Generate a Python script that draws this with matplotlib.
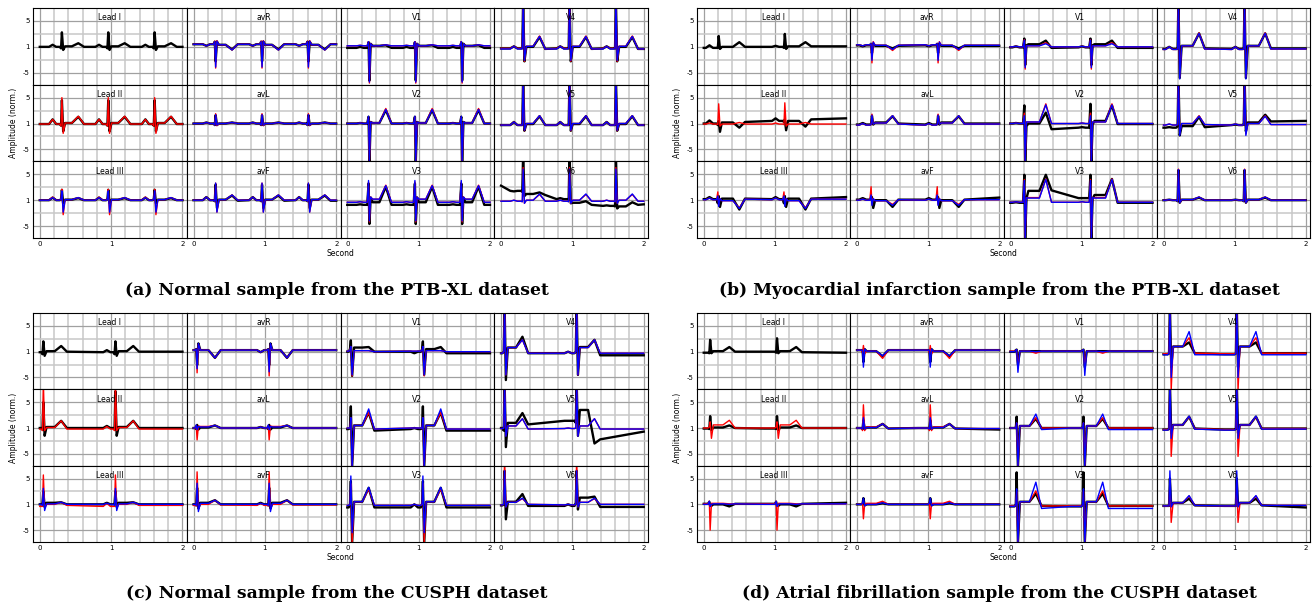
import matplotlib
matplotlib.use("Agg")
import matplotlib.pyplot as plt
from matplotlib.ticker import MultipleLocator

LEADS = ['Lead I', 'Lead II', 'Lead III', 'avR', 'avL', 'avF',
         'V1', 'V2', 'V3', 'V4', 'V5', 'V6']

# every beat is read off the picture as
# (pre, P, q, r, s, ST, T, post) amplitudes, placed around the R time
# None = trace not drawn in that lead

# ---- (a) normal, PTB-XL ----
A_R_TIMES = [0.31, 0.96, 1.61]
A_WAVE = (-0.13, 0.23)          # P and T offset from R (s)
A_BLACK = [
    (0, 0.4, -0.3, 2.8, -0.6, 0.1, 0.7, 0),
    (-0.1, 0.8, -0.4, 4.5, -1.5, 0.1, 1.3, -0.1),
    (0, 0.5, 0.2, 2.0, -0.6, 0.1, 0.4, 0),
    (0.5, 0.2, 1.0, -2.8, 1.0, 0.4, -0.5, 0.5),
    (0, 0.2, -0.3, 1.6, -0.3, 0, 0.2, 0),
    (0, 0.6, -0.2, 3.0, -1.5, 0.1, 0.9, -0.1),
    (-0.2, 0.0, 0.9, -6.5, 0.6, 0.2, 0.3, -0.2),
    (0, 0.1, 1.3, -7.5, 0.3, 0.1, 2.6, 0),
    (-0.9, -0.8, 3.2, -4.6, 0.5, -0.4, 2.6, -0.9),
    (-0.3, 0.1, -0.3, 9, -2.8, 0, 1.9, -0.4),
    (-0.3, 0.3, -0.3, 9, -1.4, -0.1, 1.4, -0.3),
    [(1.8, 1.7, 1.6, 9, 0.8, 1.2, 1.5, 1.0),
     (0.2, 0.4, 0.1, 9, -0.6, -0.5, -0.2, -0.9),
     (-1.1, -1.0, -1.2, 9, -1.6, -1.2, -0.4, -0.9)],
]
A_RED = [
    None,
    (-0.1, 0.8, -0.5, 5.0, -1.9, 0.1, 1.4, -0.1),
    (0, 0.6, 0.2, 2.1, -2.8, 0.1, 0.5, 0),
    (0.5, 0.2, 1.1, -4.1, 1.2, 0.4, -0.6, 0.5),
    (0, 0.2, -0.3, 1.9, -0.4, 0, 0.2, 0),
    (0, 0.6, -0.2, 3.3, -2.3, 0.1, 1.0, 0),
    (0.2, 0.3, 1.0, -7.0, 0.6, 0.2, 0.4, 0.2),
    (0, 0.1, 1.3, -7.5, 0.3, 0.1, 2.9, 0),
    (-0.4, -0.3, 3.5, -4.2, 0.6, 0.2, 2.9, -0.4),
    (-0.3, 0.1, -0.3, 9, -2.8, 0.1, 2.1, -0.4),
    (-0.3, 0.3, -0.3, 9, -1.4, 0, 1.5, -0.3),
    (-0.2, 0.0, -0.3, 6.3, -0.6, 0, 1.1, -0.2),
]
A_BLUE = [
    None,
    None,
    (0, 0.5, 0.2, 1.8, -2.3, 0.1, 0.5, 0),
    (0.5, 0.2, 1.0, -3.9, 1.1, 0.4, -0.6, 0.5),
    (0, 0.2, -0.3, 1.7, -0.3, 0, 0.2, 0),
    (0, 0.6, -0.2, 3.3, -2.3, 0.1, 1.0, 0),
    (0.2, 0.3, 1.0, -6.8, 0.6, 0.2, 0.4, 0.2),
    (0, 0.1, 1.4, -7.2, 0.3, 0.1, 2.7, 0),
    (-0.4, -0.3, 3.8, -4.0, 0.6, 0.2, 2.8, -0.4),
    (-0.4, 0.1, -0.3, 9, -2.6, 0.1, 2.0, -0.4),
    (-0.3, 0.3, -0.3, 9, -1.3, 0, 1.5, -0.3),
    (-0.2, 0.0, -0.3, 6.0, -0.6, 0, 1.2, -0.2),
]
A_EDGES = {('black', 'V6'): (2.8, -0.8)}

# ---- (b) myocardial infarction, PTB-XL ----
B_R_TIMES = [0.21, 1.14]
B_WAVE = (-0.13, 0.29)
B_BLACK = [
    [(-0.2, 0.3, -0.2, 2.1, -0.4, 0, 0.9, 0.0),
     (0.0, 0.2, -0.2, 2.5, -0.4, 0.1, 0.9, 0.1)],
    [(0, 0.6, -0.3, 0.5, -1.6, 0.2, -0.8, 0.3),
     (0.5, 1.0, 0.3, 0.8, -1.3, 0.5, -0.6, 0.8)],
    (0.2, 0.6, -0.6, 0.8, -1.3, 0.3, -1.8, 0.3),
    (0.3, 0.1, 0.6, -1.2, 0.6, 0.2, -0.3, 0.2),
    (-0.2, 0.1, -0.1, 1.5, -0.2, 0.2, 1.4, 0),
    (0.1, 0.4, 0.4, 0.6, -1.5, 0.0, -1.3, 0.1),
    (-0.1, 0.1, 1.6, -3.5, 0.3, 0.5, 1.2, -0.2),
    [(0, 0.1, 3.5, -7.5, -0.5, 0.0, 2.1, -1.1),
     (-0.8, -0.7, 3.8, -7.5, -0.2, 0.5, 3.5, -0.1)],
    [(-0.5, -0.4, 4.9, -7.5, 0.3, 1.8, 4.9, 1.9),
     (0.4, 0.4, 4.9, -7.5, 0.3, 1.0, 4.1, -0.5)],
    (-0.4, 0.0, -0.4, 9, -6.0, 0.2, 2.6, -0.3),
    [(-0.8, -0.7, -0.5, 9, -2.3, -0.5, 1.3, -0.7),
     (-0.3, -0.2, -0.2, 9, -1.5, 0.2, 1.7, 0.4)],
    (0, 0.1, -0.2, 5.8, -0.5, 0.1, 0.5, 0),
]
B_RED = [
    None,
    [(-0.1, 0.1, -0.2, 3.8, -0.5, -0.1, 0.2, -0.1),
     (-0.1, 0.1, -0.2, 4.0, -0.5, -0.1, 0.2, -0.1)],
    (0.1, 0.4, 1.6, -1.0, 0.3, -0.1, -1.5, 0.2),
    (0.4, 0.2, 0.6, -3.1, 1.0, 0.3, -0.7, 0.3),
    (-0.3, 0.0, -0.2, 1.8, -0.1, 0.1, 1.5, -0.1),
    (0.0, 0.2, 2.6, -0.8, 0.3, -0.1, -0.8, 0.1),
    (0, 0.1, 1.4, -4.3, 0.2, 0.2, 0.8, 0),
    (0, 0.1, 2.0, -7.5, 0.3, 0.3, 3.8, 0),
    (-0.4, -0.3, 4.0, -7.5, 0.5, 0.5, 4.1, -0.4),
    (-0.5, 0, -0.4, 9, -5.8, 0.2, 2.7, -0.4),
    (-0.3, -0.1, -0.2, 9, -2.0, 0.0, 1.5, -0.2),
    (0, 0.1, -0.2, 6.0, -0.5, 0.1, 0.6, 0),
]
B_BLUE = [
    None,
    None,
    (0.1, 0.4, 0.8, -1.2, 0.3, -0.1, -1.6, 0.2),
    (0.4, 0.2, 0.6, -2.6, 0.9, 0.3, -0.5, 0.3),
    (-0.3, 0.0, -0.2, 1.6, -0.1, 0.1, 1.5, -0.1),
    (0.0, 0.2, 1.0, -1.0, 0.3, -0.1, -1.0, 0.1),
    (0, 0.1, 1.3, -4.0, 0.2, 0.2, 0.6, 0),
    (0, 0.1, 1.5, -7.5, 0.3, 0.3, 3.6, 0),
    (-0.4, -0.3, 3.8, -7.5, 0.5, 0.4, 4.0, -0.4),
    (-0.5, 0, -0.4, 9, -6.2, 0.2, 2.6, -0.4),
    (-0.3, -0.1, -0.2, 9, -2.3, 0.0, 1.4, -0.2),
    (0, 0.1, -0.2, 5.9, -0.5, 0.1, 0.6, 0),
]
B_EDGES = {('black', 'Lead II'): (0, 1.0), ('black', 'Lead III'): (0.2, 0.6),
           ('black', 'avF'): (0.1, 0.5), ('black', 'V5'): (-0.8, 0.5)}

# ---- (c) normal, CUSPH ----
C_R_TIMES = [0.05, 1.06]
C_WAVE = (-0.12, 0.25)
C_BLACK = [
    (-0.1, 0.3, -0.5, 2.0, -0.8, 0.1, 1.1, 0),
    [(0, 0.3, -0.3, 5.0, -1.5, 0.2, 1.4, 0),
     (0, 0.4, -0.3, 7.1, -1.5, 0.2, 1.4, 0)],
    (0, 0.3, 0.2, 2.5, -0.5, 0.3, 0.4, 0),
    (0.3, -0.1, 0.5, -2.6, 1.6, 0.3, -1.2, 0.3),
    (0, 0.2, -0.2, 0.6, -0.3, 0.1, 0.5, 0),
    (0, 0.3, -0.2, 3.2, -0.8, 0.3, 0.8, 0),
    [(0, 0.1, 0.5, 2.2, -4.7, 0.8, 0.9, 0.0),
     (0.0, -0.3, 0.4, 2.0, -4.5, 0.5, 0.9, -0.3)],
    (-0.2, 0, 0, 4.2, -7.5, 0.5, 3.0, -0.5),
    (-0.6, 0, 0, 4.5, -7.5, 0.5, 3.2, -0.6),
    [(-0.3, 0, 0, 9, -5.5, 0.8, 2.9, -0.3),
     (-0.3, 0, 0, 9, -4.5, 0.9, 2.3, -0.7)],
    [(0, -0.3, -0.5, 9, -3.7, 1.0, 2.9, 0.7),
     (1.4, 1.4, 1.0, 9, -1.5, 3.5, -3.0, -2.2)],
    [(-0.2, 0, 0, 6.5, -2.9, 0.5, 2.0, -0.3),
     (-0.3, 0, 0.3, 6.5, -1.0, 1.3, 1.5, -0.5)],
]
C_RED = [
    None,
    (-0.2, 0.3, -0.5, 9, -0.5, 0.1, 1.4, -0.2),
    (-0.4, 0.2, -0.4, 5.7, -0.7, 0, 0.4, -0.2),
    [(0.3, -0.1, 0.5, -4.1, 1.5, 0.3, -1.2, 0.3),
     (0.3, -0.1, 0.5, -4.7, 1.5, 0.3, -1.2, 0.3)],
    (0, 0.2, 0.5, -2.3, 0.4, 0.3, 0.5, 0),
    (-0.2, 0.2, -0.3, 6.3, -0.8, 0, 0.8, -0.1),
    (0.1, 0.1, 0.3, 1.0, -4.7, 0.2, 0.2, 0),
    (0, 0, 0, 2.0, -7.5, 0.5, 3.0, -0.2),
    (-0.2, 0, 0, 4.0, -7.5, 0.5, 3.0, -0.2),
    (-0.3, 0, 0, 9, -4.5, 0.8, 2.3, -0.3),
    (-0.1, 0, 0, 9, -1.5, 0.4, 1.8, -0.2),
    (-0.1, 0, 0, 9, -0.5, 0.4, 1.1, 0),
]
C_BLUE = [
    None,
    None,
    (0, 0.2, -0.2, 3.1, -1.2, 0.1, 0.4, 0),
    [(0.3, -0.1, 0.5, -3.3, 1.6, 0.3, -1.2, 0.3),
     (0.3, -0.1, 0.5, -3.9, 1.6, 0.3, -1.2, 0.3)],
    (0, 0.2, 0.6, -0.3, 0.3, 0.2, 0.5, 0),
    (0, 0.2, -0.2, 4.1, -1.4, 0.2, 0.8, 0),
    (0.1, 0.1, 0.3, 1.0, -4.5, 0.2, 0.2, 0),
    (0, 0, 0, 2.0, -7.5, 0.5, 3.7, -0.2),
    (-0.2, 0, 0, 5.5, -5.5, 0.5, 3.3, -0.2),
    (-0.3, 0, 0, 9, -4.5, 0.8, 2.3, -0.3),
    (-0.1, 0, 0, 9, -1.6, 0.4, 1.8, -0.2),
    (-0.1, 0, 0, 6.5, -0.5, 0.4, 1.2, 0),
]
C_EDGES = {('black', 'V5'): (0, -0.7)}

# ---- (d) atrial fibrillation, CUSPH ----
D_R_TIMES = [0.09, 1.03]
D_WAVE = (-0.12, 0.27)
D_BLACK = [
    [(-0.2, -0.2, -0.3, 2.3, -0.3, 0.1, 0.9, 0),
     (0, 0, -0.2, 2.6, -0.3, 0.1, 0.9, -0.1)],
    (-0.1, -0.1, -0.2, 2.3, -0.4, 0.1, 0.5, 0),
    (0.1, 0.1, 0.5, -0.3, -0.3, 0, -0.4, 0.1),
    (0.3, 0.3, 0.3, -2.0, 0.5, 0.1, -0.9, 0.3),
    (0, 0, -0.2, 1.5, -0.2, 0.1, 0.8, -0.1),
    (0, 0, 0.1, 1.2, -0.2, 0, 0.2, 0),
    [(0, 0, 0.3, 0.4, -2.5, 0.1, 0.1, 0.1),
     (0.1, 0.1, 0.3, 0.4, -3.0, 0.1, 0.1, 0.1)],
    (0, 0, 0, 2.2, -7.5, 0.4, 1.8, 0),
    (-0.4, -0.4, 0, 6.2, -7.5, 0.5, 2.1, -0.3),
    (-0.5, -0.5, -0.3, 9, -3.0, 1.0, 1.8, -0.3),
    (-0.3, -0.3, -0.2, 9, -1.0, 0.6, 2.2, -0.1),
    (-0.3, -0.3, -0.3, 5.0, -0.3, 0.3, 1.1, -0.2),
]
D_RED = [
    None,
    (0, 0, 0.2, 1.2, -2.0, 0.6, 1.5, 0),
    (0.1, 0.1, 0.6, -5.0, 0.2, 0.2, 0.1, 0.1),
    (0.3, 0.3, -0.2, 1.2, -0.4, 0.1, -1.3, 0.3),
    (0, 0, -0.5, 4.5, -0.5, 0.2, 0.8, -0.1),
    (0, 0, 0.3, -2.8, 0.1, 0.2, 0.6, 0),
    (0.1, 0.1, 0.3, 0.3, -3.0, 0.1, -0.3, 0.1),
    (0, 0, 0, 1.0, -7.5, 0.4, 2.0, 0),
    (-0.3, -0.3, 0, 2.5, -7.5, 0.5, 2.6, -0.3),
    (-0.4, -0.4, -0.3, 9, -7.5, 1.0, 2.7, -0.3),
    (-0.3, -0.3, -0.2, 9, -5.5, 0.6, 2.2, -0.1),
    (-0.3, -0.3, -0.3, 4.5, -3.5, 0.3, 1.6, -0.2),
]
D_BLUE = [
    None,
    None,
    (0, 0, 0.6, -0.4, 0.0, 0.1, 0.0, 0.1),
    (0.3, 0.3, 0.3, -3.0, 0.5, 0.1, -0.8, 0.3),
    (0, 0, -0.2, 2.0, -0.2, 0.1, 0.8, -0.1),
    (0, 0, 0.2, 1.2, -0.3, 0, 0.3, 0),
    [(0, 0, 0.3, 0.4, -4.0, 0.1, 0.0, 0.1),
     (0.1, 0.1, 0.3, 0.4, -4.6, 0.1, 0.0, 0.1)],
    (0, 0, 0, 1.0, -7.5, 0.4, 2.7, -0.3),
    (-0.4, -0.4, 0, 3.0, -7.5, 0.5, 4.3, -0.8),
    (-0.6, -0.6, -0.3, 9, -5.0, 1.0, 3.9, -0.6),
    (-0.4, -0.4, -0.2, 9, -2.0, 0.6, 2.3, -0.2),
    (-0.3, -0.3, -0.3, 6.5, -0.5, 0.3, 1.7, -0.2),
]
D_EDGES = {('black', 'Lead I'): (-0.2, -0.2), ('black', 'Lead III'): (0.1, 0.3),
           ('black', 'avL'): (0, -0.3), ('black', 'V6'): (-0.3, -0.6)}

CAPTIONS = ['(a) Normal sample from the PTB-XL dataset',
            '(b) Myocardial infarction sample from the PTB-XL dataset',
            '(c) Normal sample from the CUSPH dataset',
            '(d) Atrial fibrillation sample from the CUSPH dataset']


def beat_points(r, wave, v):
    p_off, t_off = wave
    pre, p, q, rr, s, st, t, post = v
    times = [r + p_off - 0.05, r + p_off, r + p_off + 0.05, r - 0.03,
             r - 0.012, r, r + 0.018, r + 0.045, r + t_off - 0.09,
             r + t_off, r + t_off + 0.08]
    vals = [pre, p, pre, pre, q, rr, s, st, st, t, post]
    return times, vals


def trace(r_times, wave, beats, edges=None):
    if isinstance(beats, tuple):
        beats = [beats] * len(r_times)
    ts, vs = [], []
    for r, b in zip(r_times, beats):
        tt, vv = beat_points(r, wave, b)
        ts += tt
        vs += vv
    start, end = edges if edges else (vs[0], vs[-1])
    pts = [(0.0, start)] + [(t, v) for t, v in zip(ts, vs) if 0 < t < 2.0] + [(2.0, end)]
    return [p[0] for p in pts], [p[1] for p in pts]


panels = [
    (A_R_TIMES, A_WAVE, A_BLACK, A_RED, A_BLUE, A_EDGES, (33, 648, 8, 238)),
    (B_R_TIMES, B_WAVE, B_BLACK, B_RED, B_BLUE, B_EDGES, (697, 1310, 8, 238)),
    (C_R_TIMES, C_WAVE, C_BLACK, C_RED, C_BLUE, C_EDGES, (33, 648, 313, 542)),
    (D_R_TIMES, D_WAVE, D_BLACK, D_RED, D_BLUE, D_EDGES, (697, 1310, 313, 542)),
]

W, H = 1312, 607
fig = plt.figure(figsize=(W / 100, H / 100), dpi=100)

for k, (rts, wave, black, red, blue, edges, box) in enumerate(panels):
    x0, x1, y0, y1 = box
    gs = fig.add_gridspec(3, 4, left=x0 / W, right=x1 / W, top=1 - y0 / H,
                          bottom=1 - y1 / H, hspace=0, wspace=0)
    for i, lead in enumerate(LEADS):
        col, row = divmod(i, 3)
        ax = fig.add_subplot(gs[row, col])
        ax.set_axisbelow(True)
        ax.xaxis.set_minor_locator(MultipleLocator(0.2))
        ax.yaxis.set_minor_locator(MultipleLocator(2.5))
        ax.grid(which='minor', color='#c8c8c8', lw=1.1)
        ax.grid(which='major', color='#a0a0a0', lw=0.9)
        for name, series, color, lw in [('black', black, 'black', 1.7),
                                        ('red', red, 'red', 1.0),
                                        ('blue', blue, 'blue', 1.0)]:
            if series[i] is None:
                continue
            t, v = trace(rts, wave, series[i], edges.get((name, lead)))
            ax.plot(t, v, color=color, lw=lw, solid_joinstyle='round')
        ax.set_xlim(-0.095, 2.06)
        ax.set_ylim(-7.3, 7.5)
        ax.set_xticks([0, 1, 2])
        ax.set_yticks([-5, 0, 5])
        ax.tick_params(which='both', length=0, labelsize=5, pad=2.5)
        if row == 2:
            ax.set_xticklabels(['0', '1', '2'])
        else:
            ax.set_xticklabels([])
        if col == 0:
            ax.set_yticklabels(['-5', '1', '5'])
        else:
            ax.set_yticklabels([])
        for sp in ax.spines.values():
            sp.set_color('black')
            sp.set_linewidth(0.8)
        ax.text(0.5, 0.87, lead, transform=ax.transAxes, ha='center',
                va='center', fontsize=5.5)

    xc = (x0 + x1) / 2
    fig.text(xc / W, 1 - (y1 + 15) / H, 'Second', ha='center', va='center', fontsize=5.5)
    fig.text((x0 - 19) / W, 1 - (y0 + y1) / 2 / H, 'Amplitude (norm.)',
             rotation=90, ha='center', va='center', fontsize=5.5)
    fig.text((xc - 4) / W, 1 - (y1 + 52) / H, CAPTIONS[k], ha='center', va='center',
             fontsize=12.3, fontweight='bold', family='DejaVu Serif')

fig.savefig('out.png', dpi=100)
